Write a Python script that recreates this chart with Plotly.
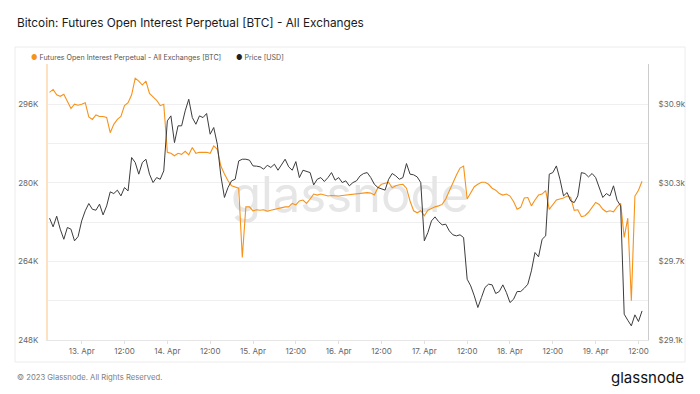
import pandas as pd
import plotly.graph_objects as go

# Hourly series starting 2023-04-12 15:00 (UTC)
start_time = "2023-04-12 15:00"

oi_k_btc = [
    298.4, 299.0, 297.9, 297.6, 298.0, 296.7, 295.1, 296.0, 295.8,
    296.0, 296.3, 293.4, 292.9, 293.8, 293.5, 293.5, 293.3, 290.2, 291.9, 292.9, 293.5,
    295.7, 296.3, 297.9, 301.3, 300.7, 299.9, 300.7, 298.2, 297.5, 296.8, 295.7, 296.0,
    286.2, 286.0, 285.5, 286.0, 285.8, 286.4, 285.7, 287.2, 286.0, 286.2, 286.2, 286.2,
    286.0, 287.5, 286.8, 283.4, 281.8, 280.4, 279.4, 279.2, 278.9, 264.8, 275.1, 275.1,
    274.3, 274.5, 274.4, 274.5, 274.2, 274.4, 274.6, 274.8, 275.0, 275.1, 275.1, 275.8,
    275.5, 276.3, 276.5, 275.8, 276.7, 277.7, 277.5, 277.7, 277.5, 277.3, 277.4, 277.3,
    277.3, 277.4, 277.5, 277.5, 277.7, 277.7, 277.8, 278.0, 278.0, 277.9, 277.5, 279.0,
    279.7, 279.9, 280.1, 279.0, 279.4, 279.6, 279.7, 278.9, 276.3, 274.3, 273.9, 274.3,
    273.3, 274.4, 274.8, 275.1, 275.3, 275.6, 276.7, 278.4, 280.1, 281.6, 283.0, 283.4,
    276.7, 278.0, 279.2, 279.7, 280.1, 280.1, 279.7, 278.9, 278.5, 277.8, 277.5, 277.7,
    277.3, 276.2, 274.6, 275.0, 276.9, 277.0, 275.3, 276.5, 277.5, 277.7, 278.4, 274.6,
    275.6, 276.5, 276.7, 276.9, 277.3, 277.0, 274.4, 274.5, 273.1, 273.3, 274.0, 275.0,
    276.0, 275.6, 274.6, 274.1, 274.3, 274.1, 275.1, 275.8, 268.9, 272.8, 256.0, 277.3,
    278.5, 280.3,
]

price_usd = [
    30030, 29964, 30045, 29946, 29869, 29959, 29946, 29857, 29890,
    30009, 30086, 30142, 30098, 30091, 30137, 30055, 30124, 30231, 30218, 30244, 30200,
    30264, 30238, 30493, 30455, 30366, 30455, 30480, 30366, 30302, 30340, 30327, 30391,
    30773, 30811, 30607, 30735, 30735, 30849, 30938, 30798, 30747, 30811, 30798, 30829,
    30671, 30722, 30595, 30353, 30188, 30264, 30315, 30327, 30467, 30480, 30480, 30473,
    30429, 30427, 30422, 30404, 30434, 30417, 30442, 30396, 30442, 30480, 30422, 30396,
    30462, 30340, 30396, 30386, 30378, 30284, 30327, 30340, 30310, 30340, 30378, 30320,
    30340, 30302, 30315, 30277, 30302, 30315, 30353, 30371, 30378, 30340, 30289, 30264,
    30251, 30244, 30327, 30371, 30353, 30327, 30340, 30447, 30366, 30361, 30345, 30302,
    29857, 29920, 30009, 30040, 30004, 29979, 29984, 29933, 29903, 29895, 29903, 29882,
    29564, 29513, 29437, 29348, 29424, 29501, 29526, 29521, 29455, 29470, 29521, 29462,
    29386, 29411, 29470, 29470, 29495, 29526, 29628, 29768, 29735, 29869, 29895, 30366,
    30378, 30429, 30327, 30200, 30226, 30162, 30149, 30200, 30378, 30371, 30345, 30371,
    30340, 30259, 30188, 30218, 30200, 30277, 30167, 30124, 29297, 29251, 29208, 29292,
    29241, 29322,
]

x_tick_vals = [
    "2023-04-13 00:00", "2023-04-13 12:00", "2023-04-14 00:00", "2023-04-14 12:00",
    "2023-04-15 00:00", "2023-04-15 12:00", "2023-04-16 00:00", "2023-04-16 12:00",
    "2023-04-17 00:00", "2023-04-17 12:00", "2023-04-18 00:00", "2023-04-18 12:00",
    "2023-04-19 00:00", "2023-04-19 12:00",
]
x_tick_text = ["13. Apr", "12:00", "14. Apr", "12:00", "15. Apr", "12:00", "16. Apr",
               "12:00", "17. Apr", "12:00", "18. Apr", "12:00", "19. Apr", "12:00"]

left_tick_vals = [248, 256, 264, 272, 280, 288, 296, 304]
left_tick_text = ["248K", "", "264K", "", "280K", "", "296K", ""]
right_tick_vals = [29100, 29700, 30300, 30900]
right_tick_text = ["$29.1k", "$29.7k", "$30.3k", "$30.9k"]

times = pd.date_range(start_time, periods=len(oi_k_btc), freq="h")

ORANGE = "#f7931a"
DARK = "#3c3c3c"
FONT = "Inter"

fig = go.Figure()

# watermark (drawn first so it sits beneath the lines)
fig.add_trace(go.Scatter(
    x=[pd.Timestamp("2023-04-16 03:10")], y=[276.6], mode="text",
    text=["glassnode"], textposition="middle center",
    textfont=dict(family=FONT, size=49, color="#e6e6e6"),
    hoverinfo="skip", showlegend=False, yaxis="y",
))

fig.add_trace(go.Scatter(
    x=times, y=oi_k_btc, mode="lines", name="Futures Open Interest Perpetual - All Exchanges [BTC]",
    line=dict(color=ORANGE, width=1.1), yaxis="y", showlegend=False,
))
fig.add_trace(go.Scatter(
    x=times, y=price_usd, mode="lines", name="Price [USD]",
    line=dict(color=DARK, width=1), yaxis="y2", showlegend=False,
))

# pixel helpers for paper coordinates (plot area: x 48..648, y 64..340)
def px(xp):
    return (xp - 48) / 600.0

def py(yp):
    return (340 - yp) / 276.0

fig.update_layout(
    width=700, height=394,
    margin=dict(l=48, r=52, t=64, b=54),
    paper_bgcolor="white", plot_bgcolor="white",
    font=dict(family=FONT, size=8, color="#666666"),
    xaxis=dict(
        type="date",
        range=["2023-04-12 14:34", "2023-04-19 14:40"],
        tickvals=x_tick_vals, ticktext=x_tick_text,
        showgrid=False, zeroline=False,
        showline=True, linecolor="#e6e6e6", linewidth=1,
        ticks="outside", ticklen=3, tickcolor="#e0e0e0",
        tickfont=dict(family=FONT, size=8, color="#666666"),
    ),
    yaxis=dict(
        range=[248, 304.18],
        tickvals=left_tick_vals, ticktext=left_tick_text,
        showgrid=True, gridcolor="#efefef", gridwidth=1,
        zeroline=False, showline=True, linecolor="#fde1c0", linewidth=2,
        ticks="", tickfont=dict(family=FONT, size=8, color="#666666"),
        ticklabelstandoff=6,
    ),
    yaxis2=dict(
        range=[29100, 31207], overlaying="y", side="right",
        tickvals=right_tick_vals, ticktext=right_tick_text,
        showgrid=False, zeroline=False, showline=True, linecolor="#cccccc", linewidth=1,
        ticks="", tickfont=dict(family=FONT, size=8, color="#666666"),
        ticklabelstandoff=8,
    ),
    showlegend=False,
)

# outer container box
fig.add_shape(type="rect", xref="paper", yref="paper",
              x0=px(15), x1=px(685), y0=py(362), y1=py(47),
              line=dict(color="#ececec", width=1), fillcolor="rgba(0,0,0,0)", layer="below")

annotations = [
    dict(x=px(15), y=py(23), xref="paper", yref="paper", xanchor="left", yanchor="middle",
         text="Bitcoin: Futures Open Interest Perpetual [BTC] - All Exchanges", showarrow=False,
         font=dict(family=FONT, size=11.8, color="#1a1a1a")),
    dict(x=px(29), y=py(58), xref="paper", yref="paper", xanchor="left", yanchor="middle",
         text='<span style="color:%s">●</span> Futures Open Interest Perpetual - All Exchanges [BTC]' % ORANGE,
         showarrow=False, font=dict(family=FONT, size=7.1, color="#555555")),
    dict(x=px(234), y=py(58), xref="paper", yref="paper", xanchor="left", yanchor="middle",
         text='<span style="color:%s">●</span> Price [USD]' % "#222222",
         showarrow=False, font=dict(family=FONT, size=7.1, color="#555555")),
    dict(x=px(15), y=py(377), xref="paper", yref="paper", xanchor="left", yanchor="middle",
         text="© 2023 Glassnode. All Rights Reserved.", showarrow=False,
         font=dict(family=FONT, size=7.7, color="#808080")),
    dict(x=px(686), y=py(377), xref="paper", yref="paper", xanchor="right", yanchor="middle",
         text="glassnode", showarrow=False,
         font=dict(family=FONT, size=15, color="#111111")),
]
fig.update_layout(annotations=annotations)

fig.write_html(
    "out.html",
    config={"displayModeBar": False},
    post_script="document.body.style.margin='0';document.body.style.overflow='hidden';",
)
